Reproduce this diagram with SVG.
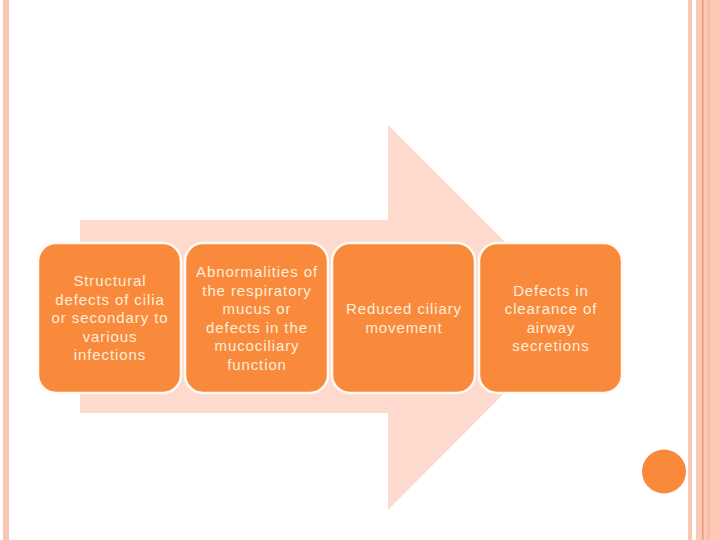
<svg xmlns="http://www.w3.org/2000/svg" width="720" height="540" viewBox="0 0 720 540">
<style>
.box{fill:#F98A3B;stroke:#FFFAF2;stroke-width:2.5}
.t{font-family:"Liberation Sans",Arial,sans-serif;font-size:15px;letter-spacing:0.9px;fill:#FDEEDC;text-anchor:middle}
</style>
<rect width="720" height="540" fill="#FFFFFF"/>
<g id="frame">
<rect x="3" y="0" width="6" height="540" fill="#F8C6B2"/>
<rect x="688" y="0" width="4" height="540" fill="#F8C6B2"/>
<rect x="696" y="0" width="24" height="540" fill="#FDC9B6"/>
<rect x="702" y="0" width="1.5" height="540" fill="#E89C7C"/>
<rect x="707" y="0" width="3" height="540" fill="#F6BDA8"/>
</g>
<g id="arrow">
<polygon points="80,220 388,220 388,125 580,317 388,510 388,413 80,413" fill="#FDD9CE"/>
</g>
<g id="node1">
<rect class="box" x="38" y="243" width="143" height="150" rx="18"/>
<text class="t" x="110" y="286">Structural</text>
<text class="t" x="110" y="304.5">defects of cilia</text>
<text class="t" x="110" y="323">or secondary to</text>
<text class="t" x="110" y="341.5">various</text>
<text class="t" x="110" y="360">infections</text>
</g>
<g id="node2">
<rect class="box" x="185" y="243" width="143" height="150" rx="18"/>
<text class="t" x="257" y="277">Abnormalities of</text>
<text class="t" x="257" y="295.5">the respiratory</text>
<text class="t" x="257" y="314">mucus or</text>
<text class="t" x="257" y="332.5">defects in the</text>
<text class="t" x="257" y="351">mucociliary</text>
<text class="t" x="257" y="369.5">function</text>
</g>
<g id="node3">
<rect class="box" x="332" y="243" width="143" height="150" rx="18"/>
<text class="t" x="404" y="314">Reduced ciliary</text>
<text class="t" x="404" y="332.5">movement</text>
</g>
<g id="node4">
<rect class="box" x="479" y="243" width="143" height="150" rx="18"/>
<text class="t" x="551" y="295.5">Defects in</text>
<text class="t" x="551" y="314">clearance of</text>
<text class="t" x="551" y="332.5">airway</text>
<text class="t" x="551" y="351">secretions</text>
</g>
<g id="connectors"></g>
<g id="dot">
<circle cx="664" cy="471.5" r="22" fill="#F98A3B"/>
</g>
</svg>
